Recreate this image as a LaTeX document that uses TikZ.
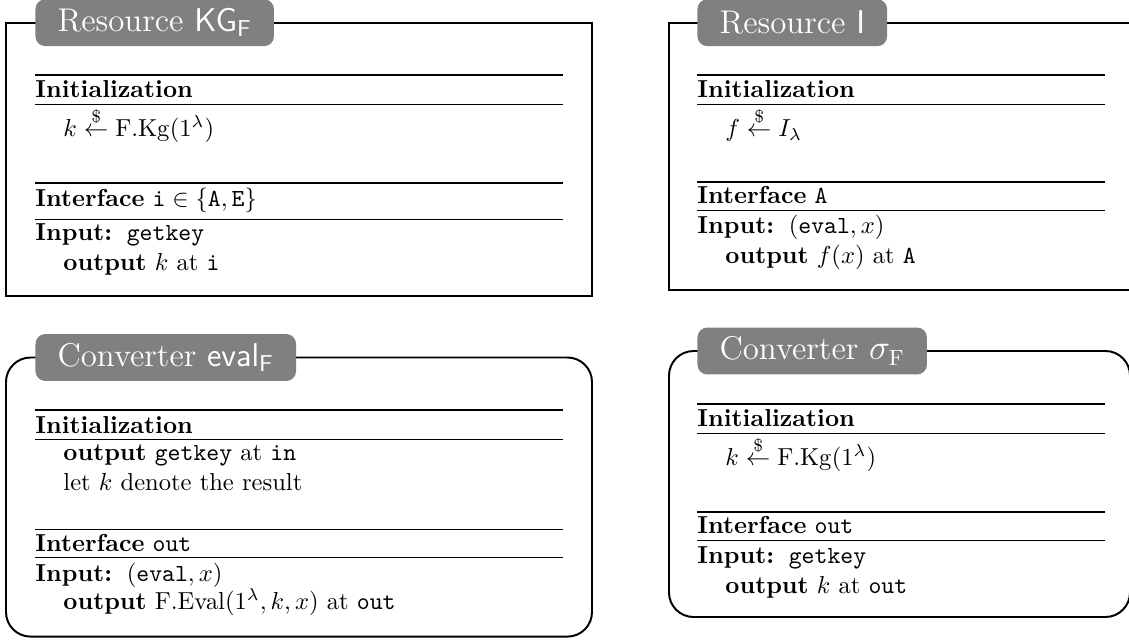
\documentclass[tikz,border=0pt]{standalone}
\usepackage{amsmath}
\begin{document}
\begin{tikzpicture}[x=0.4072pt,y=-0.4072pt,
  frame/.style={draw=black, line width=0.8pt},
  tab/.style={fill=black!50, text=white, rounded corners=4pt,
    font=\fontsize{13.4}{16}\selectfont,
    inner xsep=9pt, inner ysep=0pt, minimum height=19.1pt, anchor=west},
  thickrule/.style={line width=0.6pt},
  thinrule/.style={line width=0.4pt},
  txt/.style={anchor=base west, inner sep=0pt}]
\useasboundingbox (0,0) rectangle (1129,639);

% ---------- Resource KG_F ----------
\draw[frame] (6,22.7) rectangle (592,296);
\node[tab] (t1) at (35,22.7) {Resource \textsf{KG}$_{\textsf{F}}$};
\draw[thickrule] (35,75) -- (563,75);
\draw[thinrule] (35,104) -- (563,104);
\draw[thickrule] (35,183) -- (563,183);
\draw[thinrule] (35,219) -- (563,219);
\node[txt] (a1) at (35,97.3) {\textbf{Initialization}};
\node[txt] (a2) at (63,136.7) {$k \stackrel{\$}{\leftarrow} \mathrm{F.Kg}(1^\lambda)$};
\node[txt] (a3) at (35,206.7) {\textbf{Interface} $\texttt{i} \in \{\texttt{A},\texttt{E}\}$};
\node[txt] (a4) at (35,240.7) {\textbf{Input:}\hspace{6pt}\texttt{getkey}};
\node[txt] (a5) at (63,270.7) {\textbf{output} $k$ at \texttt{i}};

% ---------- Resource I ----------
\draw[frame] (669,22.7) rectangle (1131,290);
\node[tab] (t2) at (697,22.7) {Resource \textsf{I}};
\draw[thickrule] (697,75) -- (1105,75);
\draw[thinrule] (697,104) -- (1105,104);
\draw[thickrule] (697,182) -- (1105,182);
\draw[thinrule] (697,210) -- (1105,210);
\node[txt] (b1) at (697,97.3) {\textbf{Initialization}};
\node[txt] (b2) at (725,136.7) {$f \stackrel{\$}{\leftarrow} I_\lambda$};
\node[txt] (b3) at (697,203.3) {\textbf{Interface} \texttt{A}};
\node[txt] (b4) at (697,233.3) {\textbf{Input:}\hspace{6pt}$(\texttt{eval}, x)$};
\node[txt] (b5) at (725,263.3) {\textbf{output} $f(x)$ at \texttt{A}};

% ---------- Converter eval_F ----------
\draw[frame, rounded corners=10pt] (6,357.5) rectangle (592,636.6);
\node[tab] (t3) at (35,357.5) {Converter \textsf{eval}$_{\textsf{F}}$};
\draw[thickrule] (35,409.8) -- (563,409.8);
\draw[thinrule] (35,439) -- (563,439);
\draw[thickrule] (35,529.4) -- (563,529.4);
\draw[thinrule] (35,557.9) -- (563,557.9);
\node[txt] (c1) at (35,433.3) {\textbf{Initialization}};
\node[txt] (c2) at (63,460.7) {\textbf{output} \texttt{getkey} at \texttt{in}};
\node[txt] (c3) at (63,490.2) {let $k$ denote the result};
\node[txt] (c4) at (35,551.8) {\textbf{Interface} \texttt{out}};
\node[txt] (c5) at (35,581.3) {\textbf{Input:}\hspace{6pt}$(\texttt{eval}, x)$};
\node[txt] (c6) at (63,609.8) {\textbf{output} $\mathrm{F.Eval}(1^\lambda, k, x)$ at \texttt{out}};

% ---------- Converter sigma_F ----------
\draw[frame, rounded corners=10pt] (669,351) rectangle (1130,617);
\node[tab] (t4) at (697,351) {Converter $\sigma_{\mathrm{F}}$};
\draw[thickrule] (697,404) -- (1105,404);
\draw[thinrule] (697,433) -- (1105,433);
\draw[thickrule] (697,512) -- (1105,512);
\draw[thinrule] (697,540) -- (1105,540);
\node[txt] (d1) at (697,426.3) {\textbf{Initialization}};
\node[txt] (d2) at (725,465.7) {$k \stackrel{\$}{\leftarrow} \mathrm{F.Kg}(1^\lambda)$};
\node[txt] (d3) at (697,533) {\textbf{Interface} \texttt{out}};
\node[txt] (d4) at (697,563.3) {\textbf{Input:}\hspace{6pt}\texttt{getkey}};
\node[txt] (d5) at (725,593.3) {\textbf{output} $k$ at \texttt{out}};
\end{tikzpicture}
\end{document}
